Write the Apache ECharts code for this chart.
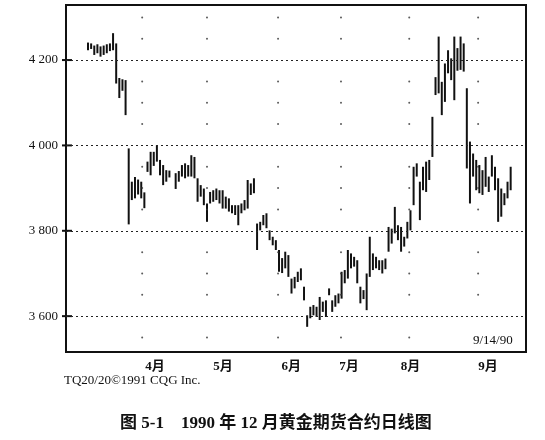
<!DOCTYPE html>
<html><head><meta charset="utf-8">
<script src="https://cdn.jsdelivr.net/npm/echarts@6/dist/echarts.min.js"></script>
<style>html,body{margin:0;padding:0;background:#fff}#c{width:545px;height:440px}</style>
</head><body><div id="c"></div>
<script>
// Daily high/low (trading-day slots; null = market holiday)
const highs = [
4241,4239,4234,4237,4232,4234,4237,4239,4263,4239,4158,4155,4153,
3993,3915,3926,3920,3915,3890,3962,3985,3985,4000,3966,3954,3942,3941,null,
3935,3940,3954,3958,3954,3977,3973,3923,3907,3899,3864,3891,3895,3899,3895,3895,3880,3876,3860,3860,3860,3864,3872,3919,3911,3923,
3817,3821,3837,3841,3801,3786,3778,3755,3736,3751,3743,3688,3692,3704,3712,3669,3602,3622,3626,3622,3645,3634,3637,3665,3637,3649,3653,3704,3708,3755,3747,
3739,3731,3669,3661,3700,3786,3747,3739,3731,3731,3735,3809,3805,3856,3813,3809,3786,3821,3848,3950,3958,3915,3950,3962,3966,4067,
4160,4255,4149,4192,4223,4204,4255,4228,4255,4239,4134,4009,3981,3966,3954,3942,3973,3927,3977,3950,3923,3899,3888,3915,3950
];
const lows = [
4223,4226,4212,4216,4208,4212,4216,4221,4223,4145,4111,4128,4071,
3815,3872,3876,3885,3876,3853,3938,3930,3952,3962,3930,3907,3915,3925,null,
3898,3915,3927,3923,3927,3927,3923,3868,3880,3860,3821,3864,3868,3872,3864,3852,3852,3845,3841,3837,3813,3841,3848,3852,3884,3888,
3755,3801,3813,3806,3778,3766,3755,3704,3701,3712,3692,3653,3665,3680,3684,3637,3575,3595,3602,3598,3591,3610,3598,3649,3610,3622,3630,3641,3677,3688,3712,
3716,3677,3630,3640,3614,3692,3708,3712,3708,3700,3710,3751,3770,3794,3778,3751,3763,3782,3801,3860,3927,3825,3895,3891,3919,3973,
4118,4122,4071,4102,4169,4153,4106,4175,4177,4173,3946,3864,3927,3895,3888,3884,3903,3891,3927,3895,3821,3833,3860,3876,3895
];
// y-axis tick labels
const yTicks = [3600, 3800, 4000, 4200];
const yTickLabels = ['3 600', '3 800', '4 000', '4 200'];
// month labels (slot positions) and month-start slots
const monthNames = ['4月', '5月', '6月', '7月', '8月', '9月'];
const monthLabelPos = [21.4, 43.1, 64.9, 83.4, 103.0, 127.8];
const monthStarts = [17.3, 38.0, 60.7, 80.8, 102.6, 124.6];
const dotLevels = [3550, 3650, 3700, 3750, 3850, 3900, 3950, 4050, 4100, 4150, 4250, 4300];
const xMin = -7.03, xMax = 139.9;

const barData = [];
highs.forEach((h, i) => { if (h != null) barData.push([i, h, lows[i]]); });
const dots = [];
monthStarts.forEach(x => dotLevels.forEach(v => dots.push([x, v])));

const serif = '"Liberation Serif","Noto Sans CJK SC",serif';
const chart = echarts.init(document.getElementById('c'), null, {renderer: 'canvas'});
chart.setOption({
  animation: false,
  backgroundColor: '#fff',
  grid: {left: 66, right: 19, top: 5, bottom: 88, show: true, borderColor: '#111', borderWidth: 2},
  xAxis: {
    type: 'value', min: xMin, max: xMax,
    axisLine: {show: false, onZero: false}, splitLine: {show: false},
    axisTick: {show: false},
    axisLabel: {
      customValues: monthLabelPos,
      formatter: v => { const k = monthLabelPos.indexOf(v); return k >= 0 ? monthNames[k] : ''; },
      color: '#111', fontFamily: serif, fontSize: 13, fontWeight: 'bold', margin: 8
    }
  },
  yAxis: {
    type: 'value', min: 3516, max: 4329,
    axisLine: {show: false, onZero: false}, splitLine: {show: false},
    axisTick: {show: false},
    axisLabel: {
      customValues: yTicks,
      formatter: v => { const k = yTicks.indexOf(v); return k >= 0 ? yTickLabels[k] : ''; },
      color: '#111', fontFamily: serif, fontSize: 13, margin: 8
    }
  },
  graphic: [
    {type: 'text', left: 473, top: 334, style: {text: '9/14/90', font: '13px ' + serif, fill: '#111'}},
    {type: 'text', left: 64, top: 374, style: {text: 'TQ20/20©1991 CQG Inc.', font: '13px ' + serif, fill: '#111'}},
    {type: 'text', left: 120, top: 415, style: {text: '图 5-1    1990 年 12 月黄金期货合约日线图', font: 'bold 17px ' + serif, fill: '#111'}}
  ],
  series: [
    {
      type: 'line', data: [], silent: true,
      markLine: {
        silent: true, symbol: 'none', label: {show: false},
        lineStyle: {type: [2, 3], color: '#222', width: 1},
        data: yTicks.map(v => ({yAxis: v}))
      }
    },
    {
      type: 'scatter', data: dots, symbolSize: 2, silent: true,
      itemStyle: {color: '#333'}
    },
    {
      // tick marks crossing the left frame at the labelled levels
      type: 'custom', data: yTicks.map(v => [xMin, v]), silent: true, clip: false,
      renderItem: (params, api) => {
        const p = api.coord([api.value(0), api.value(1)]);
        return {type: 'line', shape: {x1: p[0] - 4, y1: p[1], x2: p[0] + 6, y2: p[1]},
          style: {stroke: '#111', lineWidth: 2}};
      }
    },
    {
      type: 'custom', data: barData, silent: true,
      renderItem: (params, api) => {
        const top = api.coord([api.value(0), api.value(1)]);
        const bot = api.coord([api.value(0), api.value(2)]);
        return {type: 'line', shape: {x1: top[0], y1: top[1], x2: bot[0], y2: bot[1]},
          style: {stroke: '#111', lineWidth: 2}};
      }
    }
  ]
});
</script></body></html>
